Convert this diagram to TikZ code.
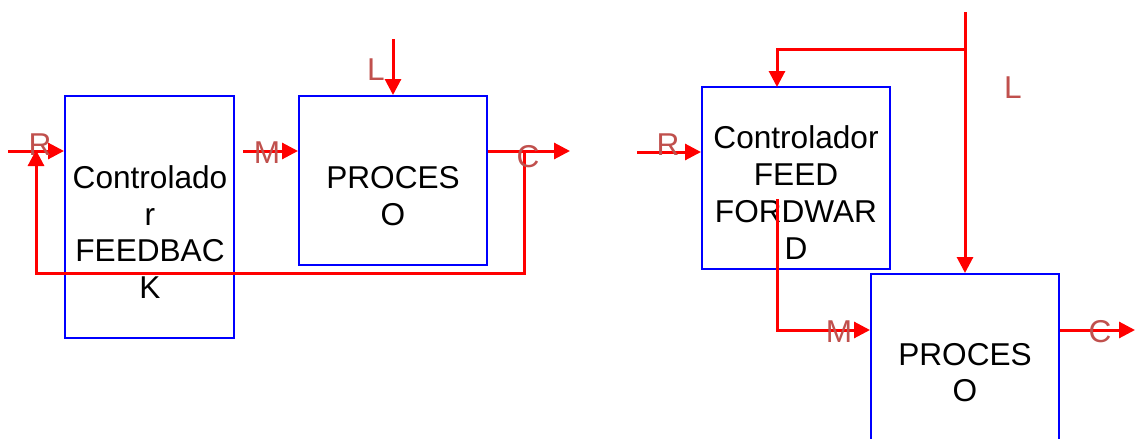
\documentclass[tikz,border=0pt]{standalone}
\usepackage{fontspec}
\setmainfont{Liberation Sans}
\usetikzlibrary{arrows.meta}
\definecolor{lblred}{RGB}{192,80,77}
\begin{document}
\begin{tikzpicture}[x=0.5pt,y=-0.5pt,
  blk/.style={draw=blue,line width=1pt,minimum width=#1,inner sep=0pt},
  txt/.style={align=center,font=\fontsize{15.8}{18.35}\selectfont,text=black,inner sep=0pt},
  lbl/.style={font=\fontsize{15.8}{18}\selectfont,text=lblred,inner sep=0pt},
  wire/.style={draw=red,line width=1.5pt},
  arr/.style={wire,-{Triangle[length=8pt,width=8pt]}}]
\useasboundingbox (0,0) rectangle (1135,439);
% left: feedback
\node[blk=84.5pt,minimum height=121pt] (ctrl) at (149.5,217) {};
\node[blk=94pt,minimum height=84.5pt] (proc1) at (393,180.5) {};
\node[txt] (ctrltxt) at (150,232) {Controlado\\r\\FEEDBAC\\K};
\node[txt] (proc1txt) at (393,196) {PROCES\\O};
\coordinate (r1) at (8,151);
\coordinate (m1) at (243,151);
\coordinate (c1) at (570,151);
\coordinate (fb) at (524,151);
\coordinate (fbl) at (36,273);
\coordinate (l1) at (393,39);
\draw[arr] (r1) -- (r1 -| ctrl.west);
\draw[arr] (m1) -- (m1 -| proc1.west);
\draw[arr] (c1 -| proc1.east) -- (c1);
\draw[arr] (fb) |- (fbl) -- ([yshift=0.5pt]fbl |- r1);
\draw[arr] (l1) -- (proc1.north);
\node[lbl] (lr1) at (40,145) {R};
\node[lbl] (lm1) at (267,153) {M};
\node[lbl] (lc1) at (528,157) {C};
\node[lbl] (ll1) at (376,70) {L};
% right: feedforward
\node[blk=94pt,minimum height=91pt] (ff) at (796,178) {};
\node[blk=94pt,minimum height=90pt] (proc2) at (965,364) {};
\node[txt] (fftxt) at (796,192.5) {Controlador\\FEED\\FORDWAR\\D};
\node[txt] (proc2txt) at (965,372.5) {PROCES\\O};
\coordinate (lt) at (965,12);
\coordinate (lb) at (965,49);
\coordinate (ffin) at (777,87);
\coordinate (r2) at (637,152);
\coordinate (m2s) at (777,199);
\coordinate (m2y) at (0,330);
\coordinate (c2) at (1135,330);
\draw[wire] (lt) -- (lb);
\draw[arr] (lb) -- (proc2.north);
\draw[arr] (lb) -| (ffin);
\draw[arr] (r2) -- (r2 -| ff.west);
\draw[arr] (m2s) |- (m2y -| proc2.west);
\draw[arr] (c2 -| proc2.east) -- (c2);
\node[lbl] (lr2) at (668,145) {R};
\node[lbl] (lm2) at (839,332) {M};
\node[lbl] (lc2) at (1100,332) {C};
\node[lbl] (ll2) at (1013,88) {L};
\end{tikzpicture}
\end{document}
